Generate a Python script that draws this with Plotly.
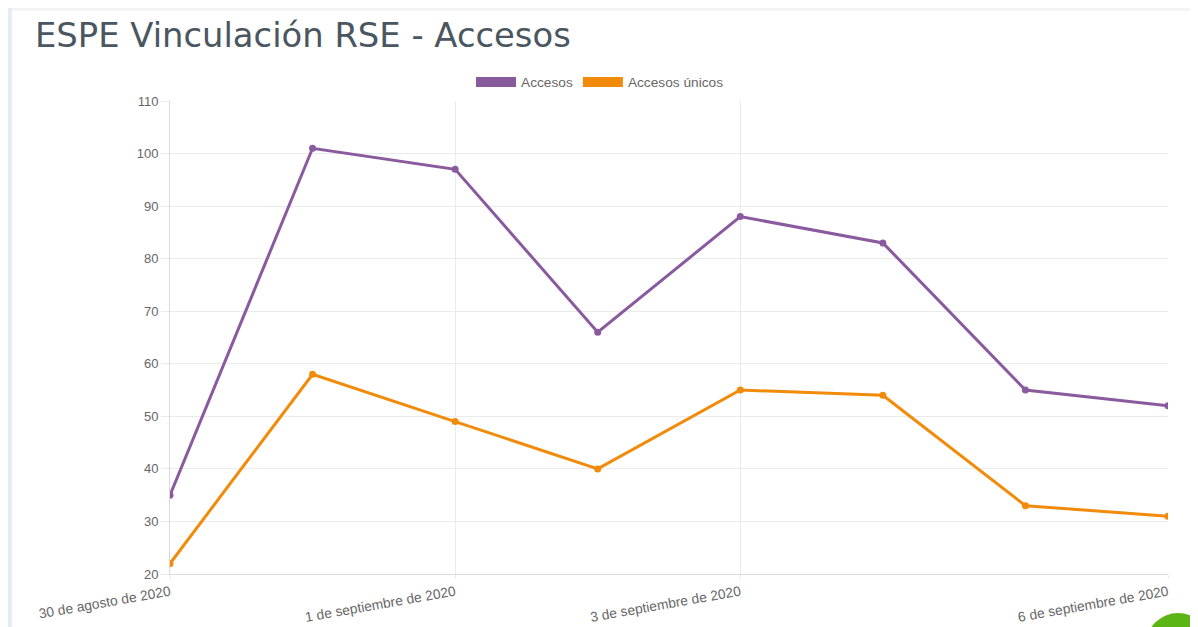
import plotly.graph_objects as go

# datos
dias = [0, 1, 2, 3, 4, 5, 6, 7]
fechas = ['30 de agosto de 2020', '31 de agosto de 2020', '1 de septiembre de 2020',
          '2 de septiembre de 2020', '3 de septiembre de 2020', '4 de septiembre de 2020',
          '5 de septiembre de 2020', '6 de septiembre de 2020']
accesos = [35, 101, 97, 66, 88, 83, 55, 52]
accesos_unicos = [22, 58, 49, 40, 55, 54, 33, 31]
ticks_visibles = [0, 2, 4, 7]

PURPLE = '#8a5a9e'
ORANGE = '#f28a0a'

# la pagina deja 8px de margen en el body
W, H = 1190, 619
L, T, R, B = 162, 93, 30, 53
PW, PH = W - L - R, H - T - B

fig = go.Figure()

def add_serie(fig, y, name, color):
    fig.add_trace(go.Scatter(
        x=dias, y=y, name=name, mode='lines+markers',
        line=dict(color=color, width=3),
        marker=dict(color=color, size=7),
        customdata=fechas, hovertemplate='%{customdata}<br>%{y}<extra>' + name + '</extra>',
        showlegend=False))
    # entrada de leyenda tipo caja
    fig.add_trace(go.Scatter(
        x=[None], y=[None], name=name, mode='lines',
        line=dict(color=color, width=14)))

add_serie(fig, accesos, 'Accesos', PURPLE)
add_serie(fig, accesos_unicos, 'Accesos únicos', ORANGE)

fig.update_layout(
    width=W, height=H,
    paper_bgcolor='white', plot_bgcolor='white',
    margin=dict(l=L, r=R, t=T, b=B, autoexpand=False),
    font=dict(family='Liberation Sans, Arial', color='#666666', size=13),
    title=dict(text='ESPE Vinculación RSE - Accesos', xref='container', yref='container',
               x=27 / W, y=1 - 27 / H, xanchor='left', yanchor='middle',
               font=dict(family='DejaVu Sans', size=33.8, color='#4a5660')),
    legend=dict(orientation='h', xref='container', yref='container',
                x=592 / W, y=1 - 74 / H, xanchor='center', yanchor='middle',
                font=dict(size=13.7, color='#666666'), itemwidth=40),
    showlegend=True,
)

fig.update_xaxes(
    range=[0, 7], tickmode='array', tickvals=ticks_visibles,
    ticktext=[fechas[i] for i in ticks_visibles], tickangle=-10,
    showgrid=True, gridcolor='#ebebeb', gridwidth=1,
    showline=True, linecolor='#d9d9d9', zeroline=False,
    ticks='outside', ticklen=4, tickcolor='#ebebeb',
    tickfont=dict(size=13.8, color='#666666'))

fig.update_yaxes(
    range=[20, 110], dtick=10, tick0=20,
    showgrid=True, gridcolor='#ebebeb', gridwidth=1,
    showline=True, linecolor='#d9d9d9', zeroline=False,
    ticks='outside', ticklen=8, tickcolor='#ebebeb',
    tickfont=dict(size=13, color='#666666'))

# borde de la tarjeta y boton verde
fig.add_shape(type='rect', xref='paper', yref='paper', x0=-L / PW, x1=(4 - L) / PW,
              y0=-B / PH, y1=1 + T / PH, fillcolor='#e6ecf3', line_width=0, layer='below')
fig.add_shape(type='rect', xref='paper', yref='paper', x0=(4 - L) / PW, x1=1 + R / PW,
              y0=1 + (T - 3) / PH, y1=1 + T / PH, fillcolor='#f4f4f4', line_width=0, layer='below')
fig.add_shape(type='circle', xref='paper', yref='paper', x0=(1138 - L) / PW, x1=(1202 - L) / PW,
              y0=(PH + T - 669) / PH, y1=(PH + T - 605) / PH, fillcolor='#5bb615', line_width=0)

fig.write_html("out.html")
